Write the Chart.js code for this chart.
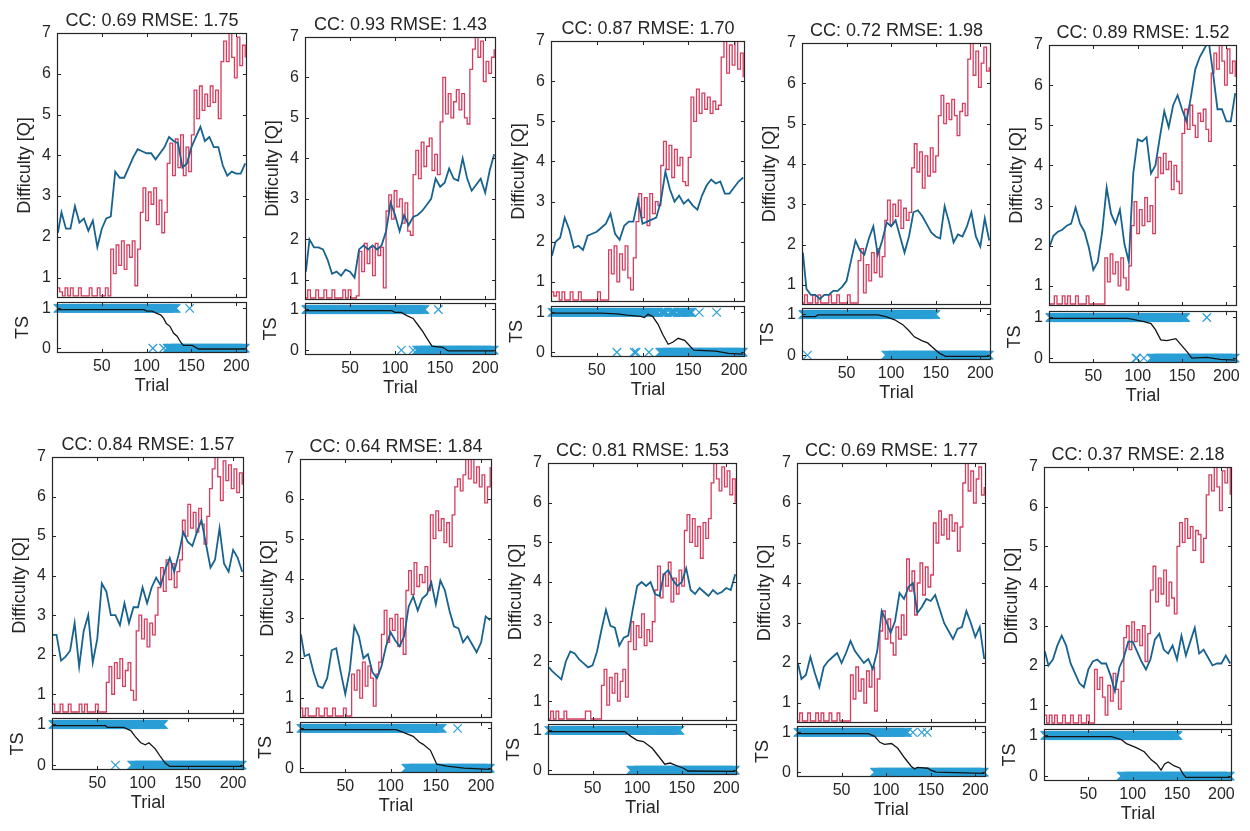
<!DOCTYPE html>
<html>
<head>
<meta charset="utf-8">
<script src="https://cdn.jsdelivr.net/npm/chart.js@4.4.1/dist/chart.umd.min.js"></script>
<style>
  html, body { margin: 0; padding: 0; background: #fff; overflow: hidden; }
  #wrap { position: relative; width: 1250px; height: 831px; }
  #wrap canvas { position: absolute; }
</style>
</head>
<body>
<div id="wrap"></div>
<script>
// trial grids the traces were read on
const redTrials = [1,3,6,9,12,15,18,21,24,27,30,33,36,39,42,45,48,51,54,57,60,63,66,69,72,75,78,81,84,87,90,93,96,99,102,105,108,111,114,117,120,123,126,129,132,135,138,141,144,147,150,153,156,159,162,165,168,171,174,177,180,183,186,189,192,195,198,201,204,207,210];
const blueTrials = [1,5,10,15,20,25,30,35,40,45,50,55,60,65,70,75,80,85,90,95,100,105,110,115,120,125,130,135,140,145,150,155,160,165,170,175,180,185,190,195,200,205,210];
const xTicks = [50, 100, 150, 200];
const yTicks = [1, 2, 3, 4, 5, 6, 7];
const tsTicks = [0, 1];

const titles = ['CC: 0.69 RMSE: 1.75', 'CC: 0.93 RMSE: 1.43', 'CC: 0.87 RMSE: 1.70', 'CC: 0.72 RMSE: 1.98', 'CC: 0.89 RMSE: 1.52',
                'CC: 0.84 RMSE: 1.57', 'CC: 0.64 RMSE: 1.84', 'CC: 0.81 RMSE: 1.53', 'CC: 0.69 RMSE: 1.77', 'CC: 0.37 RMSE: 2.18'];

// red trace (difficulty), one per panel
const red1 = [0.75,0.65,0.55,0.75,0.55,0.75,0.55,0.55,0.75,0.55, 0.55,0.55,0.75,0.55,0.55,0.75,0.55,0.55,0.75,0.55,
  1.7,1.1,1.8,1.3,1.9,1.2,1.8,1.5,1.9,0.8, 1.7,2.6,3.2,2.4,3.1,2.8,3.2,2.3,2.9,2.1, 2.6,3.8,4.3,3.5,4.4,3.7,4.5,3.5,4.2,3.6,
  4.5,5.6,4.9,5.7,5.1,5.5,5.2,5.7,5.3,5.6, 4.9,6.3,6.8,6.3,7.0,6.4,5.9,6.9,6.2,6.7, 6.4];
const red2 = [0.55,0.75,0.55,0.55,0.75,0.55,0.55,0.75,0.55,0.55, 0.75,0.55,0.55,0.55,0.75,0.55,0.75,0.55,0.55,0.6,
  1.7,1.2,1.9,1.4,1.8,1.1,1.9,1.6,1.8,0.8, 2.7,3.1,2.5,3.2,2.8,3.0,2.4,2.9,2.2,2.1, 3.6,4.2,3.5,4.4,3.8,4.3,4.5,3.7,4.1,3.6,
  4.9,6.0,5.1,5.6,5.0,5.4,5.7,5.2,5.6,5.0, 4.85,6.2,6.7,7.0,6.5,6.9,5.9,6.4,6.1,6.5, 6.7];
const red3 = [0.75,0.65,0.75,0.55,0.75,0.55,0.55,0.75,0.55,0.55, 0.75,0.55,0.55,0.55,0.55,0.55,0.55,0.75,0.55,0.55,
  0.55,1.8,1.2,1.9,1.0,1.7,1.3,1.9,1.1,0.8, 1.6,2.5,3.2,2.6,3.1,2.4,3.2,2.7,3.0,2.9, 3.9,4.5,3.8,4.4,3.6,4.3,3.9,4.1,3.5,3.4,
  4.1,5.6,5.0,5.8,5.2,5.7,5.3,5.6,5.2,5.5, 5.3,5.4,6.6,7.0,6.2,6.9,6.4,7.0,6.3,6.7, 6.1];
const red4 = [0.55,0.75,0.55,0.55,0.75,0.55,0.75,0.55,0.55,0.55, 0.75,0.55,0.55,0.75,0.55,0.55,0.55,0.75,0.55,0.55,
  0.55,1.6,1.9,0.8,1.5,1.1,1.8,1.3,1.9,1.2, 1.7,2.6,3.1,2.5,3.0,2.7,3.1,2.4,2.9,2.6, 2.8,3.9,4.5,3.8,4.3,3.4,4.2,3.7,4.4,3.8,
  4.2,5.2,5.7,5.0,5.5,5.1,5.6,5.2,4.7,5.3, 5.5,5.2,6.6,7.0,6.2,6.8,5.9,6.5,6.9,6.3, 6.4];
const red5 = [0.55,0.55,0.75,0.55,0.55,0.75,0.55,0.75,0.55,0.55, 0.75,0.55,0.55,0.55,0.75,0.55,0.55,0.55,0.55,0.55,
  0.55,1.7,1.1,1.8,1.3,1.6,1.0,1.7,1.2,0.9, 1.5,2.5,3.1,2.3,2.9,2.5,3.2,2.6,3.0,2.3, 3.7,4.2,3.8,4.3,3.9,4.1,3.4,4.0,3.6,3.3,
  4.8,5.4,4.9,5.5,5.0,4.7,5.3,5.1,5.4,4.9, 4.6,6.3,6.8,6.4,7.0,6.6,6.0,6.9,6.3,6.6, 6.2];
const red6 = [0.75,0.55,0.55,0.75,0.55,0.55,0.75,0.55,0.55,0.55, 0.75,0.55,0.75,0.55,0.55,0.55,0.75,0.55,0.55,0.55,
  1.3,1.7,1.0,1.8,1.4,1.9,1.2,1.6,1.8,1.1, 0.85,2.6,3.0,2.4,2.9,2.2,2.8,2.5,3.0,3.7, 4.2,3.6,4.4,3.9,4.3,3.7,4.1,4.4,5.4,5.0,
  5.8,5.2,5.6,5.1,5.7,5.3,4.8,5.5,6.2,6.7, 7.0,6.5,5.9,6.9,6.4,6.8,6.2,6.7,6.1,6.6, 6.3];
const red7 = [0.75,0.55,0.75,0.55,0.55,0.55,0.75,0.55,0.55,0.75, 0.55,0.55,0.75,0.55,0.55,0.55,0.75,0.55,0.55,1.6,
  1.2,1.7,1.0,1.9,1.3,1.8,1.5,0.8,1.6,1.9, 2.6,3.2,2.4,3.0,2.7,3.1,2.3,3.0,2.1,3.7, 4.2,3.6,4.4,3.8,4.1,3.9,4.3,3.7,5.6,5.0,
  5.7,5.2,5.5,4.9,5.4,4.8,5.6,6.3,6.5,6.2, 6.6,7.0,6.5,7.0,6.4,6.8,6.3,6.6,5.9,6.3, 6.8];
const red8 = [0.55,0.75,0.55,0.75,0.55,0.55,0.75,0.55,0.55,0.55, 0.55,0.55,0.55,0.55,0.75,0.75,0.55,0.55,0.55,0.55,
  1.4,1.8,0.9,1.6,1.2,1.7,1.0,1.5,1.8,1.1, 2.5,3.0,2.3,2.9,2.6,3.2,2.4,2.8,2.5,3.0, 3.8,4.4,3.6,4.2,3.9,4.5,3.5,4.1,3.7,4.3,
  3.9,5.3,5.7,5.0,5.6,4.9,5.4,4.6,5.5,5.1, 5.6,6.5,7.0,6.6,6.3,6.9,6.4,6.8,6.2,6.6, 6.0];
const red9 = [0.55,0.75,0.55,0.55,0.75,0.55,0.55,0.75,0.55,0.75, 0.55,0.55,0.75,0.55,0.55,0.75,0.55,0.55,0.55,0.55,
  1.7,1.1,1.9,1.3,1.6,1.0,1.8,1.4,1.9,0.8, 1.6,2.8,3.3,2.6,3.1,2.5,2.2,2.9,2.6,3.2, 2.7,4.6,3.8,4.3,3.2,4.0,4.5,3.7,4.4,3.9,
  4.2,5.5,5.0,5.8,5.2,5.6,5.1,5.7,5.3,5.5, 4.8,5.4,6.5,7.0,6.3,6.8,6.0,6.6,6.9,6.2, 6.4];
const red10 = [0.75,0.55,0.75,0.55,0.75,0.55,0.55,0.75,0.55,0.55, 0.75,0.55,0.55,0.75,0.55,0.55,0.75,0.55,0.55,1.9,
  1.4,1.7,1.2,0.75,1.5,1.1,1.8,1.4,0.9,1.6, 2.7,3.0,2.4,3.1,2.6,2.9,2.5,3.0,2.1,2.8, 3.9,4.5,3.6,4.2,3.8,4.4,3.5,4.1,3.7,3.3,
  5.0,5.6,5.1,5.7,5.2,5.5,4.9,5.4,5.3,4.6, 5.2,6.3,6.8,6.4,7.0,6.5,5.9,6.9,6.6,7.0, 6.3];

// blue trace (estimate), one per panel
const blue1 = [2.1,2.6,2.2,2.2,2.75,2.35,2.45,2.15,2.4,1.75, 2.2,2.45,2.5,3.6,3.45,3.45,3.7,3.95,4.15,4.1,
  4.05,4.05,3.9,4.05,4.2,4.45,4.35,4.3,3.7,3.8, 4.2,4.45,4.7,4.35,4.45,4.2,4.2,3.75,3.5,3.6, 3.55,3.55,3.8];
const blue2 = [1.2,2.0,1.8,1.8,1.75,1.5,1.15,1.2,1.1,1.25, 1.2,1.05,1.75,1.85,1.75,1.85,1.75,1.85,2.2,2.9,
  2.6,2.2,2.6,2.35,2.55,2.6,2.7,2.85,3.0,3.5, 3.3,3.4,3.75,3.5,3.45,4.0,3.5,3.2,3.35,3.5, 3.15,3.7,4.1];
const blue3 = [1.65,2.0,2.1,2.6,2.3,1.85,1.9,1.8,2.15,2.2, 2.25,2.35,2.45,2.7,2.2,2.05,2.4,2.5,2.5,3.05,
  2.45,2.5,2.55,2.6,3.0,3.75,3.3,3.0,3.15,2.95, 3.05,2.9,2.8,3.15,3.4,3.55,3.45,3.5,3.2,3.2, 3.35,3.5,3.6];
const blue4 = [1.8,0.9,0.75,0.75,0.65,0.75,0.75,0.85,0.85,0.95, 1.1,1.6,2.1,1.85,1.75,2.15,2.45,1.75,2.1,2.55,
  2.45,2.6,2.2,1.8,2.2,2.8,2.85,2.7,2.5,2.3, 2.2,2.15,2.95,2.55,2.05,2.25,2.2,2.45,2.8,2.2, 1.95,2.65,2.1];
const blue5 = [2.0,2.25,2.35,2.4,2.5,2.55,2.95,2.55,2.35,1.95, 1.4,1.6,2.35,3.45,2.8,2.55,2.9,2.05,1.6,3.8,
  4.65,4.6,4.7,3.8,4.0,4.7,5.35,4.95,5.5,5.75, 5.4,5.1,5.7,6.4,6.7,6.9,7.1,6.3,5.4,5.4, 5.1,5.1,5.8];
const blue6 = [2.5,2.5,1.85,1.95,2.1,2.8,1.7,2.6,3.0,1.8, 2.4,3.8,3.6,3.0,3.0,2.75,3.3,2.8,3.2,3.2,
  3.7,3.3,3.7,3.95,3.75,4.15,4.45,4.1,4.55,5.1, 4.85,4.75,5.1,5.4,4.8,4.2,4.4,5.2,4.3,4.1, 4.65,4.45,4.1];
const blue7 = [2.6,2.05,2.1,1.65,1.3,1.25,1.5,2.2,2.25,1.65, 1.1,1.7,2.8,2.55,2.0,2.1,1.65,1.5,1.8,2.3,
  2.65,2.45,2.3,2.55,3.3,3.55,3.2,3.5,3.6,3.9, 3.35,3.95,3.7,3.2,2.8,2.75,2.4,2.55,2.35,2.15, 2.4,3.05,2.95];
const blue8 = [1.85,1.75,1.65,1.55,2.0,2.25,2.2,2.05,1.95,1.85, 1.9,2.25,2.8,3.3,2.9,2.85,2.4,2.6,2.65,3.3,
  3.9,4.0,3.9,4.0,3.7,3.65,4.2,4.3,4.05,3.9, 4.0,4.35,3.8,3.7,3.85,3.75,3.65,3.8,3.7,3.75, 3.85,3.8,4.2];
const blue9 = [2.0,1.6,1.7,2.15,1.75,1.4,1.9,2.05,2.15,2.25, 2.0,2.25,2.55,2.3,2.15,2.0,2.1,1.85,2.3,3.3,
  3.05,2.75,3.05,3.75,3.6,3.9,4.0,3.25,3.4,3.6, 3.55,3.7,3.35,3.0,2.8,2.6,2.85,2.9,3.3,3.0, 2.65,2.9,2.1];
const blue10 = [2.35,2.0,2.15,2.5,2.75,2.5,2.05,1.8,1.55,1.45, 1.9,2.1,2.15,2.05,2.05,1.75,1.35,1.95,2.2,2.6,
  2.6,2.35,2.1,1.9,2.15,2.65,2.8,2.4,2.3,2.5, 2.15,2.75,2.25,2.6,2.95,2.3,2.4,2.2,2.0,2.05, 2.05,2.25,2.05];

// TS black line: trials and values
const tsT1 = [1,97,100,106,112,116,119,122,126,130,134,138,141,151,158,210];
const tsP1 = [0.97,0.97,0.93,0.93,0.87,0.83,0.75,0.62,0.55,0.38,0.3,0.15,0.07,0.07,-0.02,-0.02];
const tsT2 = [1,96,100,107,113,120,126,131,135,141,153,159,210];
const tsP2 = [0.97,0.97,0.93,0.93,0.85,0.78,0.6,0.45,0.3,0.1,0.07,-0.02,-0.02];
const tsT3 = [1,54,72,83,98,102,106,111,117,122,128,133,139,146,150,156,180,194,210];
const tsP3 = [0.98,0.98,0.96,0.93,0.9,0.87,0.95,0.9,0.7,0.45,0.2,0.25,0.35,0.3,0.2,0.05,0.03,-0.03,-0.05];
const tsT4 = [1,15,18,85,94,104,113,120,126,135,141,146,154,161,210];
const tsP4 = [0.95,0.95,0.99,0.99,0.95,0.87,0.75,0.6,0.45,0.35,0.3,0.2,0.05,-0.03,-0.03];
const tsT5 = [1,89,96,107,115,120,126,133,143,148,156,161,178,193,210];
const tsP5 = [0.98,0.98,0.95,0.9,0.85,0.7,0.45,0.43,0.48,0.35,0.15,0.0,0.02,-0.03,-0.05];
const tsT6 = [1,59,61,79,87,92,98,103,107,114,120,125,130,210];
const tsP6 = [0.97,0.97,0.93,0.93,0.85,0.7,0.55,0.5,0.55,0.4,0.2,0.05,-0.03,-0.03];
const tsT7 = [1,106,114,125,132,136,144,147,151,162,181,210];
const tsP7 = [0.97,0.97,0.9,0.8,0.65,0.6,0.45,0.3,0.1,0.05,0.0,-0.03];
const tsT8 = [1,86,93,100,107,117,124,131,137,146,152,157,210];
const tsP8 = [0.97,0.97,0.85,0.75,0.72,0.55,0.35,0.15,0.18,0.1,0.05,-0.02,-0.03];
const tsT9 = [1,80,87,93,98,106,113,121,128,132,135,147,150,156,210];
const tsP9 = [0.97,0.97,0.9,0.75,0.7,0.72,0.6,0.35,0.15,0.08,0.12,0.1,0.05,0.0,-0.03];
const tsT10 = [1,76,87,93,104,113,121,127,132,136,140,147,153,157,160,210];
const tsP10 = [0.97,0.97,0.9,0.8,0.7,0.6,0.4,0.3,0.15,0.3,0.35,0.25,0.2,0.05,-0.03,-0.03];

// trial runs marked at TS = 1 and TS = 0
const ones1 = [[1,133],[148,148]], zeros1 = [[107,107],[119,119],[123,210]];
const ones2 = [[1,133],[148,148]], zeros2 = [[107,107],[120,120],[124,210]];
const ones3 = [[1,117],[120,126],[130,136],[139,154],[162,162],[181,181]], zeros3 = [[72,72],[91,91],[93,93],[107,107],[119,210]];
const ones4 = [[1,150]], zeros4 = [[6,6],[94,104],[106,210]];
const ones5 = [[1,154],[178,178]], zeros5 = [[98,99],[107,107],[115,210]];
const ones6 = [[1,123]], zeros6 = [[70,70],[88,210]];
const ones7 = [[1,157],[174,174]], zeros7 = [[117,210]];
const ones8 = [[1,148]], zeros8 = [[93,210]];
const ones9 = [[1,124],[130,130],[140,140],[146,146]], zeros9 = [[87,210]];
const ones10 = [[1,151]], zeros10 = [[87,210]];

const panels = [
  {red: red1, blue: blue1, tsT: tsT1, tsP: tsP1, ones: ones1, zeros: zeros1},
  {red: red2, blue: blue2, tsT: tsT2, tsP: tsP2, ones: ones2, zeros: zeros2},
  {red: red3, blue: blue3, tsT: tsT3, tsP: tsP3, ones: ones3, zeros: zeros3},
  {red: red4, blue: blue4, tsT: tsT4, tsP: tsP4, ones: ones4, zeros: zeros4},
  {red: red5, blue: blue5, tsT: tsT5, tsP: tsP5, ones: ones5, zeros: zeros5},
  {red: red6, blue: blue6, tsT: tsT6, tsP: tsP6, ones: ones6, zeros: zeros6},
  {red: red7, blue: blue7, tsT: tsT7, tsP: tsP7, ones: ones7, zeros: zeros7},
  {red: red8, blue: blue8, tsT: tsT8, tsP: tsP8, ones: ones8, zeros: zeros8},
  {red: red9, blue: blue9, tsT: tsT9, tsP: tsP9, ones: ones9, zeros: zeros9},
  {red: red10, blue: blue10, tsT: tsT10, tsP: tsP10, ones: ones10, zeros: zeros10}
];

// plot boxes on the page: left, right, top, bottom of main plot, top/bottom of TS strip
const boxes = [
  {l: 57, r: 247, t: 33, b: 298, tt: 302, tb: 353},
  {l: 305, r: 496, t: 37, b: 300, tt: 303, tb: 355},
  {l: 551, r: 745, t: 41, b: 302, tt: 306, tb: 357},
  {l: 802, r: 991, t: 43, b: 305, tt: 308, tb: 360},
  {l: 1049, r: 1237, t: 45, b: 306, tt: 311, tb: 363},
  {l: 52, r: 244, t: 457, b: 714, tt: 718, tb: 770},
  {l: 300, r: 492, t: 459, b: 718, tt: 722, tb: 773},
  {l: 548, r: 737, t: 463, b: 721, tt: 724, tb: 775},
  {l: 797, r: 986, t: 463, b: 723, tt: 726, tb: 777},
  {l: 1044, r: 1232, t: 467, b: 725, tt: 729, tb: 781}
];

const ink = '#262626';
const redCol = '#d63c5e';
const blueCol = '#18628f';
const markCol = '#2a9fd6';
const AX = 45;

Chart.defaults.font.family = '"Liberation Sans", Arial, sans-serif';
Chart.defaults.color = ink;
Chart.defaults.animation = false;

function zip(xs, ys) { return xs.map((x, i) => ({x: x, y: ys[i]})); }
function runs(ranges, val) {
  const pts = [];
  ranges.forEach(([a, b]) => { for (let t = a; t <= b; t++) pts.push({x: t, y: val}); });
  return pts;
}

// box with inward tick marks, matlab style
const frame = {
  id: 'frame',
  afterDatasetsDraw(chart, args, opts) {
    const {ctx, chartArea: a, scales: {x, y}} = chart;
    ctx.save();
    ctx.strokeStyle = ink;
    ctx.lineWidth = 1;
    ctx.beginPath();
    xTicks.forEach(v => {
      const px = Math.round(x.getPixelForValue(v)) + 0.5;
      ctx.moveTo(px, a.bottom); ctx.lineTo(px, a.bottom - 4);
      ctx.moveTo(px, a.top); ctx.lineTo(px, a.top + 4);
    });
    opts.yTicks.forEach(v => {
      const py = Math.round(y.getPixelForValue(v)) + 0.5;
      ctx.moveTo(a.left, py); ctx.lineTo(a.left + 4, py);
      ctx.moveTo(a.right, py); ctx.lineTo(a.right - 4, py);
    });
    ctx.stroke();
    ctx.lineWidth = 1.2;
    ctx.strokeRect(a.left + 0.5, a.top + 0.5, a.width - 1, a.height - 1);
    ctx.restore();
  }
};

function yAxis(min, max, ticks, text, pad) {
  return {
    type: 'linear', min: min, max: max,
    afterBuildTicks: s => { s.ticks = ticks.map(v => ({value: v})); },
    afterFit: s => { s.width = AX; s.paddingTop = 0; s.paddingBottom = 0; },
    grid: {display: false, drawTicks: false},
    border: {display: false},
    ticks: {padding: 6, font: {size: 16}, color: ink},
    title: {display: true, text: text, font: {size: 18}, color: ink, padding: {top: pad, bottom: 0}}
  };
}

// empty right-hand spacer so the title stays centred over the plot
const spacer = {
  position: 'right', display: true,
  afterFit: s => { s.width = AX; s.paddingTop = 0; s.paddingBottom = 0; },
  grid: {display: false, drawTicks: false},
  border: {display: false},
  ticks: {display: false}
};

function addCanvas(left, top, w, h) {
  const c = document.createElement('canvas');
  c.width = w; c.height = h;
  c.style.left = left + 'px';
  c.style.top = top + 'px';
  document.getElementById('wrap').appendChild(c);
  return c;
}

panels.forEach((p, i) => {
  const b = boxes[i];
  const w = b.r - b.l;

  // difficulty plot
  const c1 = addCanvas(b.l - AX, b.t - 24, w + 2 * AX, (b.b - b.t) + 30);
  new Chart(c1, {
    type: 'line',
    data: {
      datasets: [
        {data: zip(redTrials, p.red), borderColor: redCol, borderWidth: 1.3, pointRadius: 0, stepped: 'before', order: 2},
        {data: zip(blueTrials, p.blue), borderColor: blueCol, borderWidth: 1.8, pointRadius: 0, tension: 0, order: 1}
      ]
    },
    plugins: [frame],
    options: {
      responsive: false,
      layout: {padding: {left: 0, right: 0, top: 0, bottom: 6}},
      plugins: {
        legend: {display: false},
        tooltip: {enabled: false},
        title: {display: true, text: titles[i], font: {size: 18, weight: 'normal'}, color: ink, padding: {top: 1, bottom: 1.4}},
        frame: {yTicks: yTicks}
      },
      scales: {
        x: {type: 'linear', min: 0, max: 212, display: false},
        y: yAxis(0.5, 7, yTicks, 'Difficulty [Q]', 2),
        pad: spacer
      }
    }
  });

  // TS strip
  const c2 = addCanvas(b.l - AX, b.tt - 10, w + 2 * AX, (b.tb - b.tt) + 56);
  new Chart(c2, {
    type: 'line',
    data: {
      datasets: [
        {data: zip(p.tsT, p.tsP), borderColor: '#141414', borderWidth: 1.3, pointRadius: 0, tension: 0, order: 1},
        {data: runs(p.ones, 1).concat(runs(p.zeros, 0)), showLine: false, pointStyle: 'crossRot', pointRadius: 6,
         borderColor: markCol, pointBorderColor: markCol, pointBorderWidth: 1.2, clip: 8, order: 2}
      ]
    },
    plugins: [frame],
    options: {
      responsive: false,
      layout: {padding: {left: 0, right: AX, top: 10, bottom: 0}},
      plugins: {
        legend: {display: false},
        tooltip: {enabled: false},
        frame: {yTicks: tsTicks}
      },
      scales: {
        x: {
          type: 'linear', min: 0, max: 212,
          afterBuildTicks: s => { s.ticks = xTicks.map(v => ({value: v})); },
          afterFit: s => { s.height = 46; s.paddingLeft = 0; s.paddingRight = 0; },
          grid: {display: false, drawTicks: false},
          border: {display: false},
          ticks: {padding: 4, font: {size: 16}, color: ink, maxRotation: 0, autoSkip: false},
          title: {display: true, text: 'Trial', font: {size: 18}, color: ink, padding: {top: 0, bottom: 2}}
        },
        y: yAxis(-0.12, 1.16, tsTicks, 'TS', 0)
      }
    }
  });
});
</script>
</body>
</html>
